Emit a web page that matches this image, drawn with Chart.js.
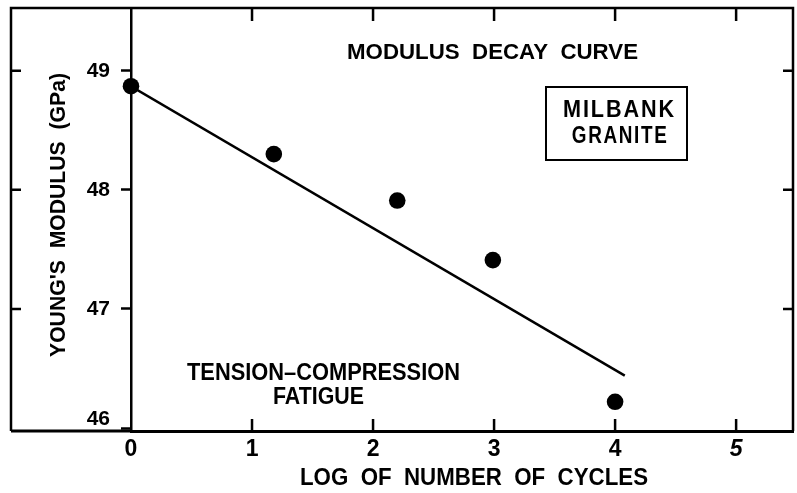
<!DOCTYPE html>
<html>
<head>
<meta charset="utf-8">
<script src="https://cdn.jsdelivr.net/npm/chart.js@4.4.1/dist/chart.umd.min.js"></script>
<style>
  html, body { margin: 0; padding: 0; background: #fff; }
</style>
</head>
<body>
<canvas id="modulusChart" width="797" height="493"></canvas>
<script>
// Measured points (log cycles vs Young's modulus, GPa)
const logCycles = [0, 1.18, 2.2, 2.99, 4.0];
const youngsModulus = [48.87, 48.30, 47.91, 47.41, 46.22];

// Fitted decay line end points
const fitLogCycles = [0, 4.08];
const fitModulus = [48.87, 46.44];

const xTickValues = [0, 1, 2, 3, 4, 5];
const xTickLabels = ["0", "1", "2", "3", "4", "5"];
const yTickValues = [46, 47, 48, 49];
const yTickLabels = [["46", ""], "47", "48", "49"];
const frameTicksX = [1, 2, 3, 4, 5];
const frameTicksY = [47, 48, 49];

const FONT = "'Liberation Sans', Arial, sans-serif";
const LEFT_MARGIN = 120; // frame extends one decade left of the y axis

// draw bold text squeezed/stretched to a measured width, centred on the cap height
function fitText(ctx, text, cx, capMid, width, size, spacing, rotated) {
  ctx.save();
  ctx.font = `bold ${size}px ${FONT}`;
  ctx.letterSpacing = (spacing || 0) + "px";
  const w = ctx.measureText(text).width - (spacing || 0);
  if (rotated) {
    ctx.translate(capMid + size * 0.36, cx);
    ctx.rotate(-Math.PI / 2);
  } else {
    ctx.translate(cx, capMid + size * 0.36);
  }
  ctx.scale(width / w, 1);
  ctx.textAlign = "left";
  ctx.textBaseline = "alphabetic";
  ctx.fillStyle = "#000";
  ctx.fillText(text, -w / 2, 0);
  ctx.restore();
}

const framePlugin = {
  id: "frame",
  afterDraw(chart) {
    const { ctx, chartArea: a, scales: { x, y } } = chart;
    const left = a.left - LEFT_MARGIN;
    ctx.save();
    ctx.strokeStyle = "#000";
    ctx.lineWidth = 2.5;
    ctx.beginPath();
    ctx.moveTo(left, a.bottom);
    ctx.lineTo(left, a.top);
    ctx.lineTo(a.right, a.top);
    ctx.lineTo(a.right, a.bottom);
    ctx.stroke();
    ctx.lineWidth = 3;
    ctx.beginPath();
    ctx.moveTo(left, a.bottom);
    ctx.lineTo(a.left, a.bottom);
    ctx.stroke();

    // inward ticks on the frame
    ctx.lineWidth = 2.5;
    ctx.beginPath();
    frameTicksY.forEach(v => {
      const py = y.getPixelForValue(v);
      ctx.moveTo(left, py); ctx.lineTo(left + 10, py);
      ctx.moveTo(a.right, py); ctx.lineTo(a.right - 10, py);
    });
    frameTicksX.forEach(v => {
      const px = x.getPixelForValue(v);
      ctx.moveTo(px, a.top); ctx.lineTo(px, a.top + 13);
      ctx.moveTo(px, a.bottom); ctx.lineTo(px, a.bottom - 12);
    });
    ctx.stroke();

    // box around the rock name
    ctx.lineWidth = 2;
    ctx.strokeRect(546, 87, 141, 73);
    ctx.restore();

    fitText(ctx, "MODULUS  DECAY  CURVE", 492.5, 50.5, 291, 22.5);
    fitText(ctx, "TENSION\u2013COMPRESSION", 323.5, 371.5, 273, 23.5);
    fitText(ctx, "FATIGUE", 318.5, 395.5, 91, 23.5);
    fitText(ctx, "MILBANK", 618.5, 108.7, 111, 23, 2);
    fitText(ctx, "GRANITE", 619.3, 134.3, 95, 23, 2);
    fitText(ctx, "LOG  OF  NUMBER  OF  CYCLES", 474, 476.5, 348, 23.5);
    fitText(ctx, "YOUNG'S  MODULUS  (GPa)", 215, 57, 284, 21.5, 0, true);
  }
};

const ctx = document.getElementById("modulusChart").getContext("2d");

new Chart(ctx, {
  data: {
    datasets: [
      {
        type: "scatter",
        data: logCycles.map((v, i) => ({ x: v, y: youngsModulus[i] })),
        pointRadius: 8.3,
        pointBackgroundColor: "#000",
        pointBorderWidth: 0,
        clip: 10
      },
      {
        type: "line",
        data: fitLogCycles.map((v, i) => ({ x: v, y: fitModulus[i] })),
        borderColor: "#000",
        borderWidth: 2.5,
        pointRadius: 0,
        fill: false
      }
    ]
  },
  options: {
    responsive: false,
    animation: false,
    devicePixelRatio: 1,
    layout: { autoPadding: false, padding: { left: 11, top: 8, right: 4, bottom: 0 } },
    plugins: { legend: { display: false }, tooltip: { enabled: false } },
    scales: {
      x: {
        type: "linear",
        position: "bottom",
        min: 0,
        max: 5.47,
        afterBuildTicks: s => { s.ticks = xTickValues.map(v => ({ value: v })); },
        afterFit: s => { s.height = 62; s.paddingLeft = 0; s.paddingRight = 0; },
        grid: { display: false },
        border: { display: true, color: "#000", width: 3 },
        ticks: {
          color: "#000",
          padding: -3,
          maxRotation: 0,
          callback: v => xTickLabels[xTickValues.indexOf(v)],
          font: c => ({
            family: FONT,
            size: 23,
            weight: "bold",
            style: c.tick && c.tick.value === 5 ? "italic" : "normal"
          })
        }
      },
      y: {
        type: "linear",
        position: "left",
        min: 45.975,
        max: 49.527,
        afterBuildTicks: s => { s.ticks = yTickValues.map(v => ({ value: v })); },
        afterFit: s => { s.width = LEFT_MARGIN; s.paddingTop = 0; s.paddingBottom = 0; },
        grid: {
          drawOnChartArea: false,
          drawTicks: true,
          tickLength: 10,
          tickWidth: 2.5,
          tickColor: "#000"
        },
        border: { display: true, color: "#000", width: 2.5 },
        ticks: {
          color: "#000",
          padding: 11,
          callback: v => yTickLabels[yTickValues.indexOf(v)],
          font: { family: FONT, size: 21, weight: "bold", lineHeight: 0.8 }
        }
      }
    }
  },
  plugins: [framePlugin]
});
</script>
</body>
</html>
